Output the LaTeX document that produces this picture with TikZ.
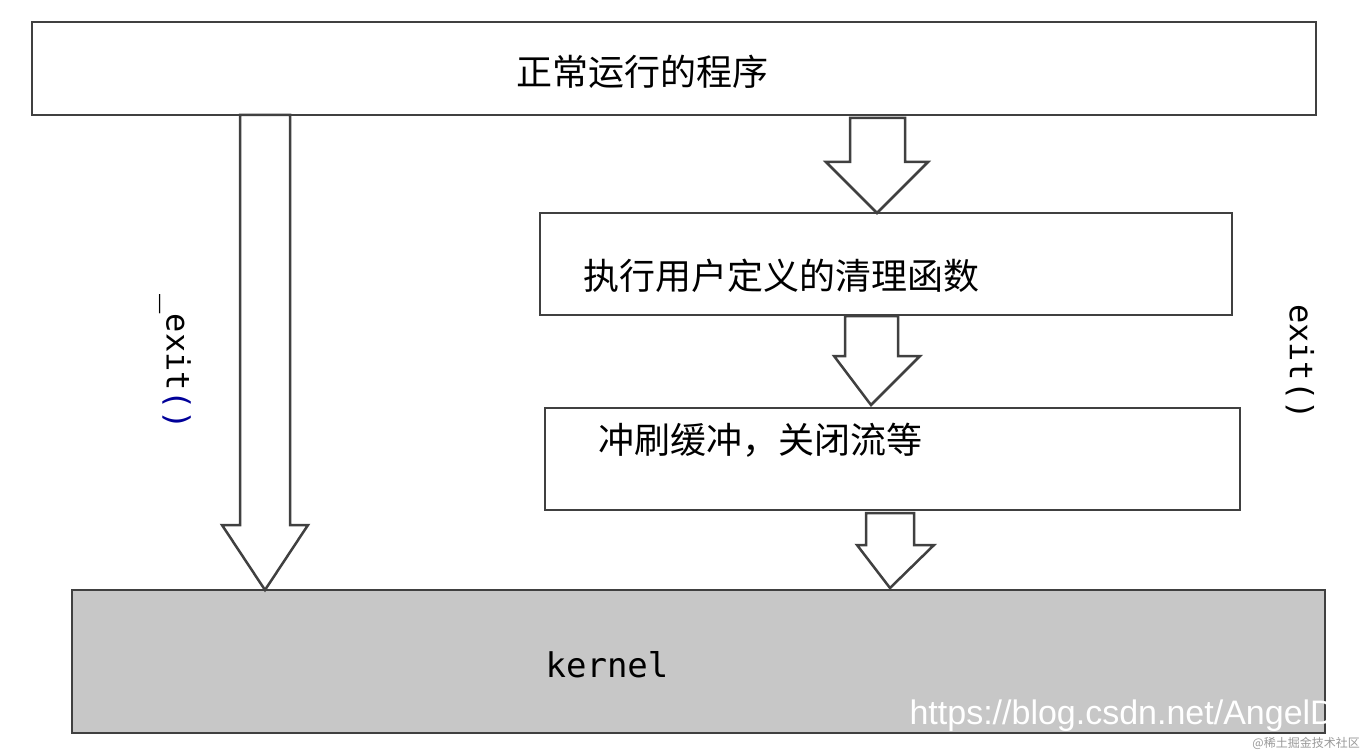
\documentclass[tikz,border=0pt]{standalone}
\usepackage{fontspec}
\newfontfamily\cjk{Noto Sans CJK SC}
\setmonofont{DejaVu Sans Mono}
\setsansfont{Liberation Sans}
\begin{document}
\begin{tikzpicture}[x=1pt,y=-1pt,
  box/.style={draw=black!75,line width=2.5pt,fill=white},
  lbl/.style={font=\cjk\fontsize{36}{40}\selectfont,anchor=west,inner sep=0},
  barrow/.style={draw=black!75,line width=2.5pt,fill=white,line join=miter}]
\useasboundingbox (0,0) rectangle (1364,751);
\fill[white] (0,0) rectangle (1364,751);
\draw[box] (32,22) rectangle (1316,115);
\node[font=\cjk\fontsize{36}{40}\selectfont] (t1) at (642,72) {正常运行的程序};
\draw[box] (540,213) rectangle (1232,315);
\node[lbl] (t2) at (583,276) {执行用户定义的清理函数};
\draw[box] (545,408) rectangle (1240,510);
\node[lbl] (t3) at (598,440) {冲刷缓冲，关闭流等};
\draw[box,fill=black!22] (72,590) rectangle (1325,733);
\node[font=\ttfamily\fontsize{34}{38}\selectfont] (k) at (607,665) {kernel};
% left arrow
\draw[barrow] (240,115) -- (290,115) -- (290,525) -- (308,525) -- (265,590) -- (222,525) -- (240,525) -- cycle;
% arrow 1
\draw[barrow] (850,118) -- (905,118) -- (905,162) -- (928,162) -- (877,213) -- (826,162) -- (850,162) -- cycle;
% arrow 2
\draw[barrow] (845,316) -- (898,316) -- (898,356) -- (920,356) -- (871,405) -- (834,356) -- (845,356) -- cycle;
% arrow 3
\draw[barrow] (866,513) -- (914,513) -- (914,545) -- (934,545) -- (890,588) -- (857,545) -- (866,545) -- cycle;
\node[font=\ttfamily\fontsize{32}{36}\selectfont,rotate=-90] (e1) at (175,362) {\_exit\textcolor{blue!60!black}{()}};
\node[font=\ttfamily\fontsize{32}{36}\selectfont,rotate=-90] (e2) at (1300,362) {exit()};
\node[font=\sffamily\fontsize{34}{38}\selectfont,text=white,anchor=east,inner sep=0] (w) at (1335,716) {https://blog.csdn.net/AngelD};
\node[font=\cjk\fontsize{12}{14}\selectfont,text=black!40,anchor=east,inner sep=0] (w2) at (1360,743) {@稀土掘金技术社区};
\end{tikzpicture}
\end{document}
